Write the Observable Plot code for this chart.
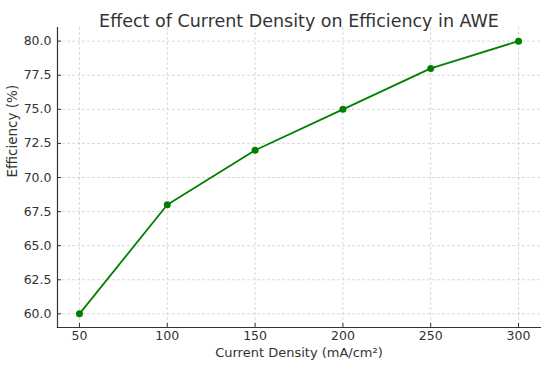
<!DOCTYPE html>
<html>
<head>
<meta charset="utf-8">
<script src="https://cdn.jsdelivr.net/npm/d3@7"></script>
<script src="https://cdn.jsdelivr.net/npm/@observablehq/plot@0.6"></script>
<style>
  html, body { margin: 0; padding: 0; background: #fff; }
  svg { display: block; }
</style>
</head>
<body>
<div id="chart"></div>
<script>
const currentDensity = [50, 100, 150, 200, 250, 300];
const efficiency = [60, 68, 72, 75, 78, 80];
const xTicks = [50, 100, 150, 200, 250, 300];
const yTicks = [60, 62.5, 65, 67.5, 70, 72.5, 75, 77.5, 80];
const title = "Effect of Current Density on Efficiency in AWE";
const xLabel = "Current Density (mA/cm²)";
const yLabel = "Efficiency (%)";

const data = currentDensity.map((x, i) => ({x, y: efficiency[i]}));
const font = "DejaVu Sans, sans-serif";
const textColor = "#333333";

const chart = Plot.plot({
  width: 550,
  height: 368,
  marginLeft: 57,
  marginRight: 10,
  marginTop: 27,
  marginBottom: 41,
  style: {fontFamily: font, fontSize: "12px", color: textColor, background: "#fff"},
  x: {domain: [37.5, 312.5]},
  y: {domain: [59, 81]},
  marks: [
    Plot.gridX(xTicks, {stroke: "#b0b0b0", strokeOpacity: 0.6, strokeDasharray: "3,2", strokeWidth: 0.8}),
    Plot.gridY(yTicks, {stroke: "#b0b0b0", strokeOpacity: 0.6, strokeDasharray: "3,2", strokeWidth: 0.8}),
    Plot.frame({anchor: "left", stroke: "#333", strokeWidth: 1.2}),
    Plot.frame({anchor: "bottom", stroke: "#333", strokeWidth: 1.2}),
    Plot.axisX(xTicks, {tickSize: -4, tickFormat: () => "", label: null, stroke: "#333"}),
    Plot.axisY(yTicks, {tickSize: -4, tickFormat: () => "", label: null, stroke: "#333"}),
    Plot.text(xTicks, {x: d => d, frameAnchor: "bottom", dy: 12, fontSize: 12.5, fill: textColor, text: d => String(d)}),
    Plot.text(yTicks, {y: d => d, frameAnchor: "left", dx: -6, textAnchor: "end", fontSize: 12.5, fill: textColor, text: d => d3.format(".1f")(d)}),
    Plot.line(data, {x: "x", y: "y", stroke: "#008000", strokeWidth: 1.8}),
    Plot.dot(data, {x: "x", y: "y", fill: "#008000", r: 3.5}),
    Plot.text([title], {frameAnchor: "top", dy: -13, fontSize: 17.5, fill: textColor, text: d => d}),
    Plot.text([xLabel], {frameAnchor: "bottom", dy: 29, fontSize: 13, fill: textColor, text: d => d}),
    Plot.text([yLabel], {frameAnchor: "left", y: () => 70, dx: -45, rotate: -90, fontSize: 13.5, fill: textColor, text: d => d})
  ]
});
document.getElementById("chart").appendChild(chart);
</script>
</body>
</html>
